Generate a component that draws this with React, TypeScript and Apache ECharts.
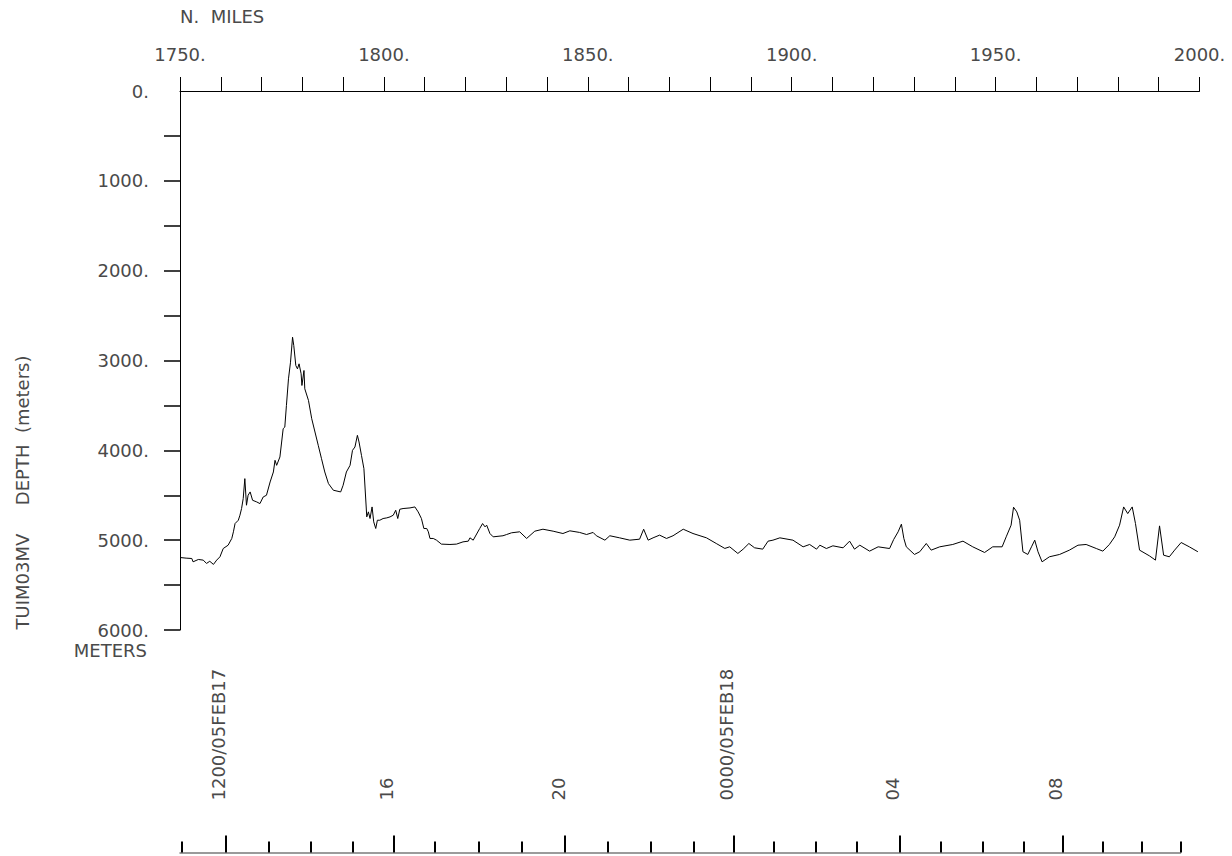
import React, { useEffect, useRef } from "react";
import * as echarts from "echarts";

// ---- data ----
const distanceTitle = "N.  MILES";
const depthAxisTitle = "TUIM03MV     DEPTH  (meters)";
const depthUnitLabel = "METERS";

const milesMin = 1750;
const milesMax = 2000;
const milesTickStep = 10;
const milesLabelStep = 50;

const depthMin = 0;
const depthMax = 6000;
const depthLabelStep = 1000;
const depthTickValues = [500, 1000, 1500, 2000, 2500, 3000, 3500, 4000, 4500, 5000, 5500, 6000];

// [distance (n. miles), depth (m)]
const depthProfile: [number, number][] = [
  [1750.0, 5193], [1751.5, 5200], [1752.9, 5204], [1753.2, 5241], [1754.5, 5215], [1755.7, 5222],
  [1756.5, 5259], [1757.3, 5235], [1758.2, 5270], [1759.0, 5222], [1759.8, 5185], [1760.6, 5093],
  [1761.8, 5056], [1762.7, 4981], [1763.1, 4907], [1763.5, 4815], [1764.3, 4778], [1764.7, 4722],
  [1765.1, 4648], [1765.5, 4537], [1765.9, 4315], [1766.3, 4611], [1766.7, 4500], [1767.2, 4463],
  [1767.8, 4556], [1768.8, 4574], [1769.6, 4593], [1770.4, 4519], [1771.2, 4500], [1772.1, 4352],
  [1772.9, 4241], [1773.3, 4111], [1773.7, 4167], [1774.5, 4074], [1775.3, 3759], [1775.7, 3741],
  [1776.1, 3500], [1776.6, 3204], [1777.1, 3019], [1777.6, 2741], [1777.9, 2833], [1778.4, 3056],
  [1778.8, 3093], [1779.2, 3037], [1779.7, 3148], [1779.9, 3278], [1780.4, 3111], [1780.6, 3315],
  [1781.5, 3444], [1782.3, 3648], [1783.1, 3796], [1783.9, 3944], [1784.7, 4093], [1785.5, 4241],
  [1786.4, 4370], [1787.6, 4444], [1789.4, 4463], [1790.0, 4389], [1790.8, 4241], [1791.7, 4167],
  [1792.3, 4000], [1792.9, 3963], [1793.5, 3833], [1793.9, 3907], [1794.5, 4056], [1795.1, 4204],
  [1795.8, 4741], [1796.2, 4685], [1796.6, 4759], [1797.1, 4630], [1797.5, 4796], [1798.0, 4870],
  [1798.4, 4778], [1799.0, 4778], [1799.8, 4759], [1800.7, 4752], [1801.5, 4741], [1802.3, 4722],
  [1802.9, 4667], [1803.4, 4759], [1803.9, 4656], [1804.7, 4648], [1806.4, 4641], [1807.6, 4630],
  [1808.4, 4685], [1809.2, 4759], [1809.8, 4870], [1810.5, 4870], [1810.9, 4907], [1811.3, 4981],
  [1812.1, 4981], [1812.9, 5000], [1814.1, 5044], [1816.2, 5048], [1817.8, 5044], [1819.4, 5019],
  [1820.7, 5011], [1821.1, 4974], [1821.9, 5000], [1823.5, 4870], [1824.2, 4815], [1824.8, 4852],
  [1825.2, 4833], [1826.0, 4926], [1826.8, 4963], [1829.2, 4951], [1830.1, 4937], [1831.3, 4918],
  [1833.3, 4907], [1835.0, 4981], [1837.0, 4900], [1839.0, 4878], [1841.5, 4900], [1843.9, 4926],
  [1845.6, 4896], [1848.0, 4914], [1849.7, 4937], [1851.3, 4914], [1852.1, 4951], [1854.2, 5000],
  [1855.4, 4951], [1857.8, 4974], [1860.3, 5000], [1862.7, 4989], [1863.7, 4878], [1864.8, 5000],
  [1866.0, 4974], [1867.6, 4944], [1869.3, 4981], [1870.9, 4951], [1873.4, 4878], [1875.8, 4926],
  [1879.1, 4974], [1881.5, 5037], [1883.6, 5092], [1884.8, 5074], [1886.8, 5148], [1888.1, 5100],
  [1889.5, 5037], [1890.9, 5085], [1892.9, 5100], [1894.2, 5011], [1895.4, 5000], [1897.1, 4974],
  [1900.3, 5000], [1902.8, 5074], [1904.4, 5048], [1906.1, 5100], [1906.9, 5056], [1908.5, 5093],
  [1910.1, 5063], [1912.6, 5085], [1914.2, 5011], [1915.4, 5100], [1916.7, 5056], [1919.1, 5122],
  [1921.2, 5074], [1924.0, 5093], [1925.0, 4993], [1926.1, 4907], [1926.9, 4822], [1927.5, 4981],
  [1928.1, 5074], [1930.1, 5159], [1931.4, 5129], [1933.0, 5037], [1934.2, 5111], [1936.3, 5074],
  [1939.5, 5048], [1942.0, 5011], [1944.4, 5074], [1947.3, 5137], [1949.3, 5074], [1951.6, 5074],
  [1952.6, 4963], [1953.8, 4833], [1954.4, 4633], [1955.2, 4685], [1955.9, 4778], [1956.7, 5129],
  [1957.9, 5159], [1958.8, 5074], [1959.6, 5000], [1960.4, 5129], [1961.4, 5241], [1963.2, 5185],
  [1965.7, 5159], [1968.1, 5111], [1970.2, 5056], [1972.2, 5048], [1974.7, 5093], [1976.3, 5122],
  [1977.9, 5048], [1979.2, 4963], [1980.4, 4833], [1981.4, 4630], [1982.4, 4704], [1983.5, 4630],
  [1984.3, 4815], [1985.3, 5111], [1987.7, 5174], [1989.2, 5222], [1990.2, 4841], [1991.2, 5167],
  [1992.6, 5185], [1993.9, 5111], [1995.5, 5026], [1997.5, 5074], [1999.6, 5129],
];

// time track: hour marks located along the distance scale (n. miles)
const timeAxisEndMiles = 1995.2;
const hourTickMiles = [
  1750.37, 1771.74, 1782.06, 1792.38, 1812.45, 1823.16, 1833.85, 1854.75, 1865.37, 1875.86,
  1895.59, 1905.74, 1915.88, 1936.5, 1946.64, 1956.72, 1976.18, 1985.74, 1995.15,
];
const labeledTimeMiles = [1761.15, 1802.43, 1844.36, 1885.61, 1926.35, 1966.27];
const labeledTimeTexts = ["1200/05FEB17", "16", "20", "0000/05FEB18", "04", "08"];

const FONT = '"DejaVu Sans", sans-serif';
const TEXT_COLOR = "#4a4a4a";

export default function App() {
  const ref = useRef<HTMLDivElement>(null);

  useEffect(() => {
    if (!ref.current) return;
    const chart = echarts.init(ref.current, null, { renderer: "svg" });

    const timeGridPos = { left: 180, right: 51.5, top: 700, bottom: 3.5 };

    const option: any = {
      animation: false,
      backgroundColor: "#ffffff",
      grid: [
        { left: 180, right: 32.5, top: 91, bottom: 226, outerBoundsMode: "none", containLabel: false },
        { ...timeGridPos, outerBoundsMode: "none", containLabel: false },
        { ...timeGridPos, outerBoundsMode: "none", containLabel: false },
      ],
      xAxis: [
        {
          type: "value",
          gridIndex: 0,
          position: "top",
          min: milesMin,
          max: milesMax,
          interval: milesTickStep,
          axisLine: { show: true, lineStyle: { color: "#000", width: 1 } },
          axisTick: { show: true, length: 14, inside: false, lineStyle: { color: "#000", width: 1 } },
          axisLabel: {
            show: true,
            margin: 28,
            fontFamily: FONT,
            fontSize: 18,
            color: TEXT_COLOR,
            hideOverlap: false,
            formatter: (v: number) => (Math.round(v) % milesLabelStep === 0 ? `${Math.round(v)}.` : ""),
          },
          splitLine: { show: false },
        },
        {
          type: "value",
          gridIndex: 1,
          position: "bottom",
          min: milesMin,
          max: timeAxisEndMiles,
          axisLine: { show: true, lineStyle: { color: "#7a7a7a", width: 1.5 } },
          axisTick: {
            show: true,
            inside: true,
            length: 11,
            customValues: hourTickMiles,
            lineStyle: { color: "#000", width: 2 },
          },
          axisLabel: { show: false },
          splitLine: { show: false },
        },
        {
          type: "value",
          gridIndex: 2,
          position: "bottom",
          min: milesMin,
          max: timeAxisEndMiles,
          axisLine: { show: false },
          axisTick: {
            show: true,
            inside: true,
            length: 17,
            customValues: labeledTimeMiles,
            lineStyle: { color: "#000", width: 2 },
          },
          axisLabel: {
            show: true,
            inside: true,
            rotate: 90,
            margin: 52,
            customValues: labeledTimeMiles,
            fontFamily: FONT,
            fontSize: 18,
            color: TEXT_COLOR,
            verticalAlign: "bottom",
            lineHeight: 14,
            hideOverlap: false,
            formatter: (v: number) => {
              let best = 0;
              let bestD = Infinity;
              labeledTimeMiles.forEach((m, i) => {
                const d = Math.abs(m - v);
                if (d < bestD) {
                  bestD = d;
                  best = i;
                }
              });
              return labeledTimeTexts[best];
            },
          },
          splitLine: { show: false },
        },
      ],
      yAxis: [
        {
          type: "value",
          gridIndex: 0,
          inverse: true,
          min: depthMin,
          max: depthMax,
          interval: depthLabelStep,
          axisLine: { show: true, lineStyle: { color: "#000", width: 1 } },
          axisTick: {
            show: true,
            length: 16,
            customValues: depthTickValues,
            lineStyle: { color: "#000", width: 1.5 },
          },
          axisLabel: {
            show: true,
            margin: 31,
            fontFamily: FONT,
            fontSize: 18,
            color: TEXT_COLOR,
            hideOverlap: false,
            formatter: (v: number) => `${v}.`,
          },
          splitLine: { show: false },
        },
        { type: "value", gridIndex: 1, show: false, min: 0, max: 1 },
        { type: "value", gridIndex: 2, show: false, min: 0, max: 1 },
      ],
      graphic: [
        {
          type: "text",
          x: 180,
          y: 16.5,
          style: {
            text: distanceTitle,
            fontFamily: FONT,
            fontSize: 18,
            fill: TEXT_COLOR,
            textAlign: "left",
            textVerticalAlign: "middle",
          },
        },
        {
          type: "text",
          x: 147,
          y: 650,
          style: {
            text: depthUnitLabel,
            fontFamily: FONT,
            fontSize: 18,
            fill: TEXT_COLOR,
            textAlign: "right",
            textVerticalAlign: "middle",
          },
        },
        {
          type: "text",
          x: 22.5,
          y: 492.5,
          rotation: Math.PI / 2,
          style: {
            text: depthAxisTitle,
            fontFamily: FONT,
            fontSize: 18,
            fill: TEXT_COLOR,
            textAlign: "center",
            textVerticalAlign: "middle",
          },
        },
      ],
      series: [
        {
          type: "line",
          xAxisIndex: 0,
          yAxisIndex: 0,
          data: depthProfile,
          showSymbol: false,
          symbol: "none",
          smooth: false,
          lineStyle: { color: "#000", width: 1 },
          silent: true,
        },
      ],
    };

    chart.setOption(option);
    return () => chart.dispose();
  }, []);

  return (
    <div
      ref={ref}
      style={{ position: "fixed", left: 0, top: 0, width: 1232, height: 856, background: "#fff" }}
    />
  );
}
